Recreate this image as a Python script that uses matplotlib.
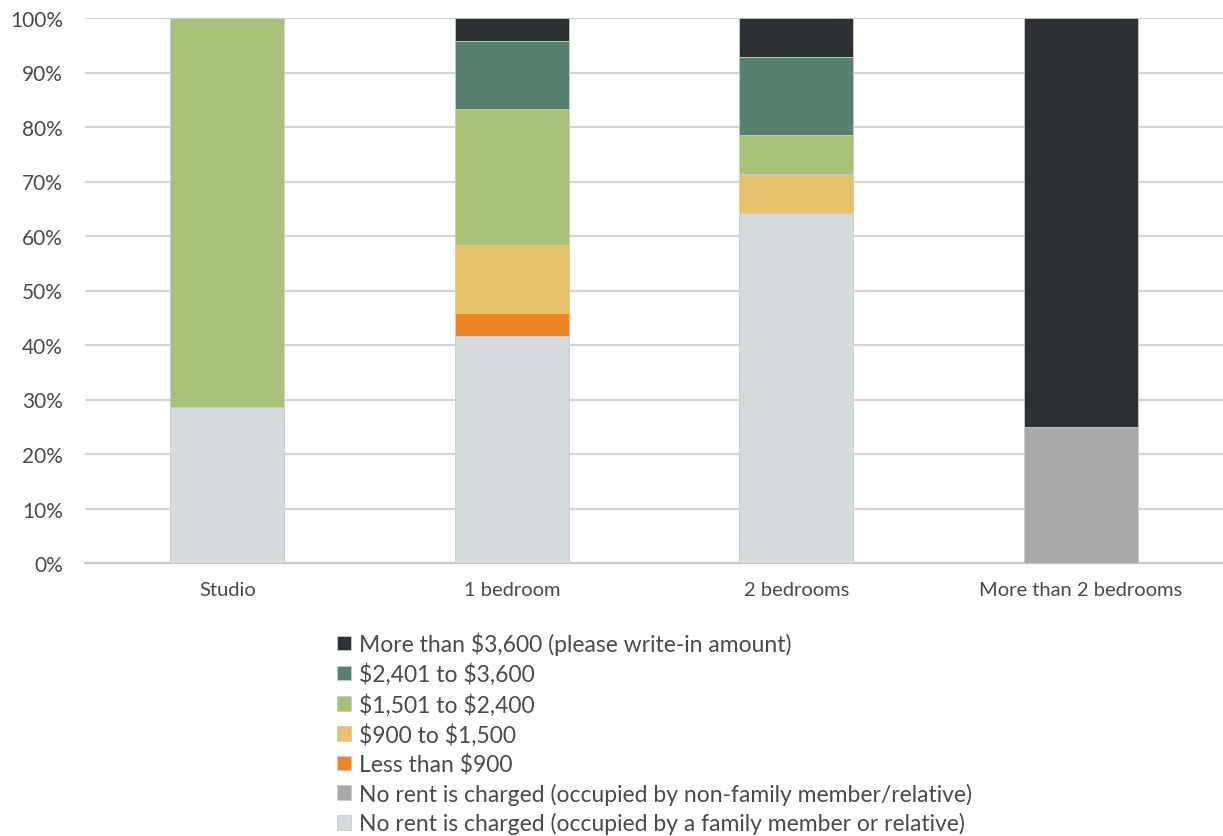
import matplotlib
matplotlib.use("Agg")
import matplotlib.pyplot as plt
from matplotlib.ticker import PercentFormatter, MultipleLocator

categories = ["Studio", "1 bedroom", "2 bedrooms", "More than 2 bedrooms"]
series_names = [
    "No rent is charged (occupied by a family member or relative)",
    "No rent is charged (occupied by non-family member/relative)",
    "Less than $900",
    "$900 to $1,500",
    "$1,501 to $2,400",
    "$2,401 to $3,600",
    "More than $3,600 (please write-in amount)",
]
family_free = [28.57, 41.67, 64.29, 0.0]
nonfamily_free = [0.0, 0.0, 0.0, 25.0]
less_900 = [0.0, 4.17, 0.0, 0.0]
r900_1500 = [0.0, 12.50, 7.14, 0.0]
r1501_2400 = [71.43, 25.00, 7.14, 0.0]
r2401_3600 = [0.0, 12.50, 14.29, 0.0]
more_3600 = [0.0, 4.17, 7.14, 75.0]
series_values = [family_free, nonfamily_free, less_900, r900_1500,
                 r1501_2400, r2401_3600, more_3600]
colors = ["#d5dadd", "#a9a9a9", "#ec8624", "#e6c36a", "#a8c27a", "#577f6e", "#2b3134"]

plt.rcParams['font.family'] = ['Lato', 'DejaVu Sans']
plt.rcParams['text.parse_math'] = False

fig = plt.figure(figsize=(12.23, 8.37), dpi=100)
ax = fig.add_axes([85/1223, 1 - 564/837, (1223 - 85)/1223, (564 - 19)/837])

x = list(range(len(categories)))
bottom = [0.0] * len(categories)
handles = []
for name, vals, c in zip(series_names, series_values, colors):
    b = ax.bar(x, vals, width=0.4, bottom=bottom, color=c, label=name,
               edgecolor="#c8cccf", linewidth=0.6, zorder=3)
    handles.append(b)
    bottom = [bo + v for bo, v in zip(bottom, vals)]

ax.set_xlim(-0.5, 3.5)
ax.set_ylim(0, 100)
ax.yaxis.set_major_locator(MultipleLocator(10))
ax.yaxis.set_major_formatter(PercentFormatter(decimals=0))
ax.grid(axis="y", color="#d4d4d4", linewidth=1.6, zorder=0)
for s in ["top", "right", "left"]:
    ax.spines[s].set_visible(False)
ax.spines["bottom"].set_color("#c8c8c8")
ax.spines["bottom"].set_linewidth(1.6)
ax.set_xticks(x)
ax.set_xticklabels(categories)
ax.tick_params(axis="both", length=0, colors="#4a4a4a")
ax.tick_params(axis="y", labelsize=15, pad=16)
ax.tick_params(axis="x", labelsize=14.5, pad=13)

leg = fig.legend(handles[::-1], series_names[::-1], loc="upper left",
                 bbox_to_anchor=(326/1223, 1 - 621/837), frameon=False,
                 fontsize=16.5, handlelength=0.6, handleheight=0.6,
                 handletextpad=0.35, labelspacing=0.33, borderpad=0)
for t in leg.get_texts():
    t.set_color("#4a4a4a")

fig.savefig("out.png", dpi=100)
